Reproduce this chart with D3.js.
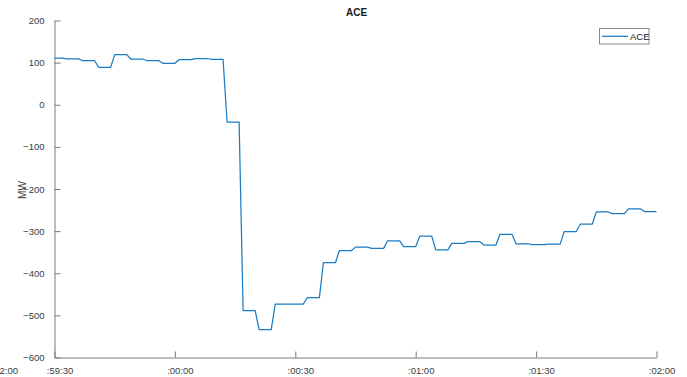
<!DOCTYPE html>
<html>
<head>
<meta charset="utf-8">
<script src="https://cdn.jsdelivr.net/npm/d3@7"></script>
<style>
  html, body { margin: 0; padding: 0; background: #fff; }
  svg { display: block; font-family: "Liberation Sans", Arial, Helvetica, sans-serif; }
</style>
</head>
<body>
<svg id="chart" width="687" height="377"></svg>
<script>
// ACE trace, seconds from the start of the window (:59:30) and MW values
const times = [0, 2, 3, 6, 7, 10, 11, 14, 15, 18, 19, 22, 23, 26, 27, 30, 31, 34, 35, 38,
  39, 42, 43, 46, 47, 50, 51, 54, 55, 62, 63, 66, 67, 70, 71, 74, 75, 78, 79, 82,
  83, 86, 87, 90, 91, 94, 95, 98, 99, 102, 103, 106, 107, 110, 111, 114, 115, 118, 119, 122,
  123, 126, 127, 130, 131, 134, 135, 138, 139, 142, 143, 146, 147, 150];
const ace = [110.5, 110.5, 109, 109, 104.5, 104.5, 89, 89, 119, 119, 108.5, 108.5, 104.5, 104.5, 98.5, 98.5, 107, 107, 109.5, 109.5,
  108, 108, -41, -41, -489, -489, -534, -534, -473, -473, -458, -458, -375, -375, -346, -346, -338, -338, -341, -341,
  -323, -323, -337, -337, -312, -312, -344.5, -344.5, -329, -329, -325, -325, -333, -333, -307.5, -307.5, -330, -330, -332, -332,
  -331, -331, -301, -301, -283.5, -283.5, -254.5, -254.5, -258.5, -258.5, -247, -247, -253.5, -253.5];

const xTicks = [0, 30, 60, 90, 120, 150];
const xTickLabels = [":59:30", ":00:00", ":00:30", ":01:00", ":01:30", ":02:00"];
const yTicks = [200, 100, 0, -100, -200, -300, -400, -500, -600];

const svg = d3.select("#chart");
const plot = { left: 54.5, right: 656.5, top: 20.5, bottom: 357.5 };

const x = d3.scaleLinear().domain([0, 150]).range([plot.left, plot.right]);
const y = d3.scaleLinear().domain([-600, 200]).range([plot.bottom, plot.top]);

const axisColor = "#7a7a7a";
const textColor = "#3c3c3c";
const lineColor = "#1a7cc4";

// y axis: ticks point inward
const yAxis = svg.append("g").attr("transform", `translate(${plot.left},0)`)
  .call(d3.axisLeft(y).tickValues(yTicks).tickSizeInner(-6).tickSizeOuter(0).tickPadding(10)
    .tickFormat(d3.format("d")));
yAxis.select(".domain").attr("stroke", axisColor);
yAxis.selectAll(".tick line").attr("stroke", axisColor);
yAxis.selectAll(".tick text").attr("fill", textColor).attr("font-size", "9.5px")
  .attr("font-family", "Liberation Sans, Arial, sans-serif");

// x axis: ticks point inward, labels below
const xAxis = svg.append("g").attr("transform", `translate(0,${plot.bottom})`)
  .call(d3.axisBottom(x).tickValues(xTicks).tickSizeInner(-6).tickSizeOuter(0).tickPadding(10)
    .tickFormat((d, i) => xTickLabels[i]));
xAxis.select(".domain").attr("stroke", axisColor);
xAxis.selectAll(".tick line").attr("stroke", axisColor);
xAxis.selectAll(".tick text").attr("fill", textColor).attr("font-size", "9.5px")
  .attr("font-family", "Liberation Sans, Arial, sans-serif").attr("dx", 5);

// clipped label at the far left edge
svg.append("text").attr("x", -0.5).attr("y", 374).attr("fill", textColor)
  .attr("font-size", "9.5px").text("2:00");

// trace
const line = d3.line().x((d, i) => x(times[i])).y(d => y(d));
svg.append("path").datum(ace)
  .attr("fill", "none").attr("stroke", lineColor).attr("stroke-width", 1.25)
  .attr("stroke-linejoin", "round").attr("d", line);

// title and axis label
svg.append("text").attr("x", (plot.left + plot.right) / 2 + 1).attr("y", 16).attr("text-anchor", "middle")
  .attr("font-size", "10px").attr("font-weight", "bold").attr("fill", "#1a1a1a").text("ACE");
svg.append("text").attr("transform", "translate(26,190) rotate(-90)").attr("text-anchor", "middle")
  .attr("font-size", "10px").attr("fill", textColor).text("MW");

// legend
const lg = svg.append("g");
lg.append("rect").attr("x", 599.5).attr("y", 28.5).attr("width", 49.5).attr("height", 15.5)
  .attr("fill", "#fff").attr("stroke", "#8a8a8a").attr("stroke-width", 1);
lg.append("line").attr("x1", 602).attr("x2", 628).attr("y1", 36.3).attr("y2", 36.3)
  .attr("stroke", lineColor).attr("stroke-width", 1.25);
lg.append("text").attr("x", 630).attr("y", 40).attr("font-size", "9.5px").attr("fill", "#1a1a1a").text("ACE");
</script>
</body>
</html>
